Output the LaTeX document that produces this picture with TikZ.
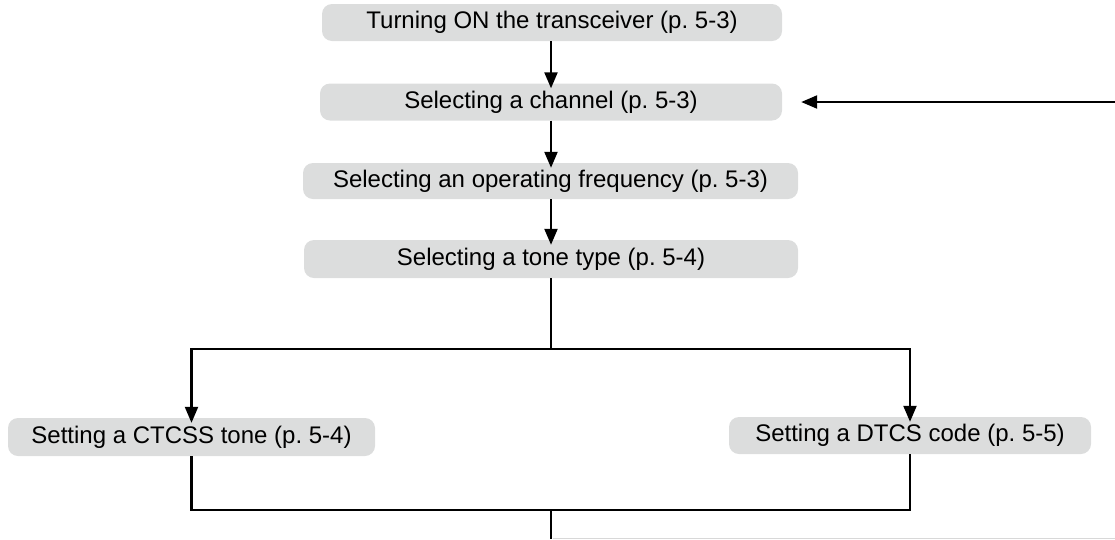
\documentclass[tikz,border=0pt]{standalone}
\usepackage{fontspec}
\setmainfont{Liberation Sans}
\usetikzlibrary{arrows.meta}
\definecolor{boxgray}{HTML}{DCDDDD}
\definecolor{edgegray}{HTML}{D8D8D8}
\tikzset{
  stepbox/.style={fill=boxgray, rounded corners=10pt, inner sep=0pt, anchor=center,
    font=\fontsize{24}{27}\selectfont\frenchspacing, text=black},
  conn/.style={line width=2.2pt, draw=black},
  arr/.style={conn, -{Triangle[length=16pt, width=13pt]}},
}
\begin{document}
\begin{tikzpicture}[x=1pt, y=-1pt]
\useasboundingbox (0,0) rectangle (1115,539);
\node[stepbox, minimum width=460pt, minimum height=37pt] (b1) at (552,22.5) {Turning ON the transceiver (p. 5-3)};
\node[stepbox, minimum width=462pt, minimum height=37pt] (b2) at (551,102) {Selecting a channel (p. 5-3)};
\node[stepbox, minimum width=495pt, minimum height=36pt] (b3) at (550.5,181) {Selecting an operating frequency (p. 5-3)};
\node[stepbox, minimum width=494pt, minimum height=38pt] (b4) at (551,259) {Selecting a tone type (p. 5-4)};
\node[stepbox, minimum width=367pt, minimum height=38pt] (ct) at (191.5,437) {Setting a CTCSS tone (p. 5-4)};
\node[stepbox, minimum width=362pt, minimum height=37pt] (dt) at (910,435.5) {Setting a DTCS code (p. 5-5)};
\coordinate (split) at (551,349);
\coordinate (join) at (551,510);
\coordinate (rin) at (1115,102);
\coordinate (bot) at (551,539);
\coordinate (gl) at (553,538);
\coordinate (gr) at (1115,538);
\draw[arr] (b1.south -| 551,0) -- ([yshift=-5pt]b2.north -| 551,0);
\draw[arr] (b2.south -| 551,0) -- ([yshift=-5pt]b3.north -| 551,0);
\draw[arr] (b3.south -| 551,0) -- ([yshift=-5pt]b4.north -| 551,0);
\draw[arr] (rin) -- ([xshift=19pt]b2.east);
\draw[conn] (b4.south -| split) -- (split);
\draw[arr] (split) -| ([yshift=-5pt]ct.north);
\draw[arr] (split) -| ([yshift=-5pt]dt.north);
\draw[conn] (ct.south) |- (join);
\draw[conn] (dt.south) |- (join);
\draw[conn] (join) -- (bot);
\draw[draw=edgegray, line width=1pt] (gl) -- (gr);
\end{tikzpicture}
\end{document}
